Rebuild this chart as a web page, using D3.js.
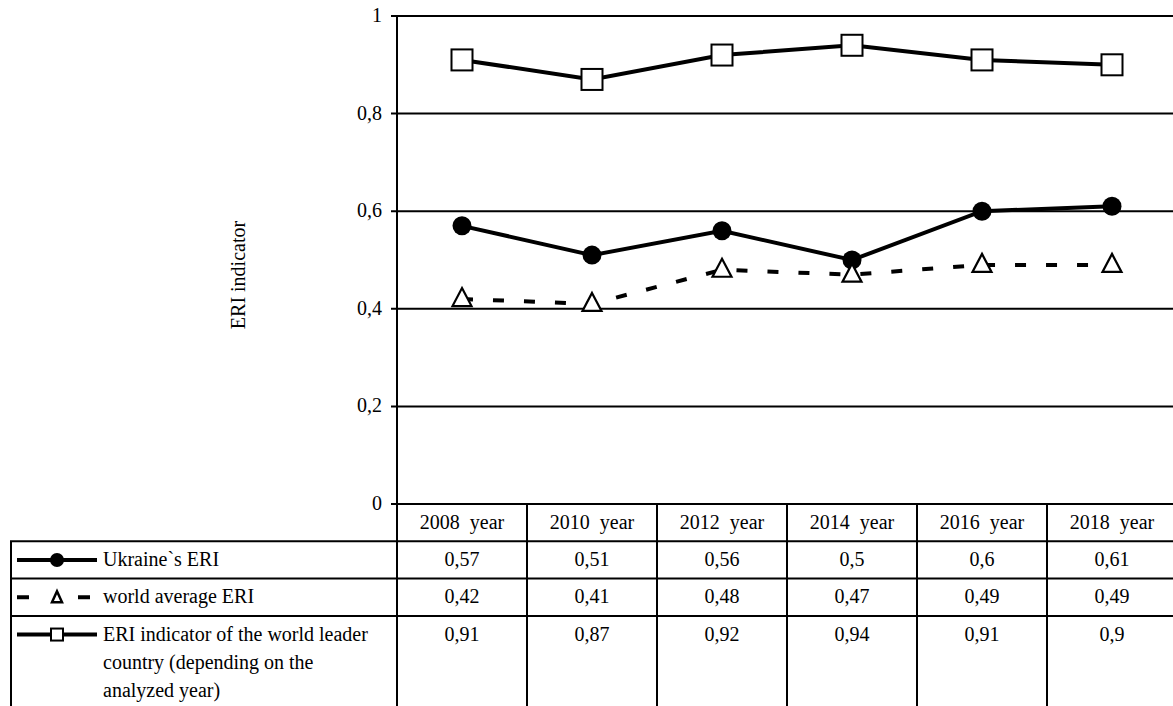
<!DOCTYPE html>
<html>
<head>
<meta charset="utf-8">
<script src="https://cdn.jsdelivr.net/npm/d3@7"></script>
<style>
    body { margin: 0; background: #fff; }
    svg text { font-family: "Liberation Serif", "Times New Roman", serif; font-size: 20px; fill: #000; }
</style>
</head>
<body>
<div id="myDiv"></div>
<script>
// Chart data
var years = ["2008  year", "2010  year", "2012  year", "2014  year", "2016  year", "2018  year"];
var ukraineEri = [0.57, 0.51, 0.56, 0.5, 0.6, 0.61];
var worldAvgEri = [0.42, 0.41, 0.48, 0.47, 0.49, 0.49];
var leaderEri = [0.91, 0.87, 0.92, 0.94, 0.91, 0.9];
var yTicks = [0, 0.2, 0.4, 0.6, 0.8, 1];

var seriesList = [
    { name: "Ukraine`s ERI", values: ukraineEri, marker: "circle", dash: null },
    { name: "world average ERI", values: worldAvgEri, marker: "triangle", dash: "11,20" },
    { name: ["ERI indicator of the world leader", "country (depending on the", "analyzed year)"], values: leaderEri, marker: "square", dash: null }
];

var width = 1173, height = 706;
var plotLeft = 397, plotRight = 1177, plotTop = 16, plotBottom = 504;
var rowH = 37.3;

var svg = d3.select("#myDiv").append("svg")
    .attr("width", width)
    .attr("height", height);

var x = d3.scaleBand().domain(years).range([plotLeft, plotRight]);
var y = d3.scaleLinear().domain([0, 1]).range([plotBottom, plotTop]);

function fmt(v) { return String(v).replace(".", ","); }

// grid lines
svg.selectAll(".grid")
    .data(yTicks)
    .enter().append("line")
    .attr("x1", plotLeft - 6).attr("x2", plotRight)
    .attr("y1", d => y(d)).attr("y2", d => y(d))
    .attr("stroke", "#000").attr("stroke-width", 2);

// y axis line
svg.append("line")
    .attr("x1", plotLeft).attr("x2", plotLeft)
    .attr("y1", plotTop).attr("y2", height)
    .attr("stroke", "#000").attr("stroke-width", 2);

// tick labels
svg.selectAll(".ytick")
    .data(yTicks)
    .enter().append("text")
    .attr("x", plotLeft - 15)
    .attr("y", d => y(d))
    .attr("dy", "0.3em")
    .attr("text-anchor", "end")
    .text(d => fmt(d));

// axis title
svg.append("text")
    .attr("transform", "translate(239,275) rotate(-90)")
    .attr("dy", "0.3em")
    .attr("text-anchor", "middle")
    .text("ERI indicator");

// data table
var rowTops = [plotBottom, plotBottom + rowH, plotBottom + 2 * rowH, plotBottom + 3 * rowH];
svg.selectAll(".hline")
    .data(rowTops.slice(1))
    .enter().append("line")
    .attr("x1", 10).attr("x2", plotRight)
    .attr("y1", d => d).attr("y2", d => d)
    .attr("stroke", "#000").attr("stroke-width", 2);

svg.append("line")
    .attr("x1", 11).attr("x2", 11)
    .attr("y1", rowTops[1]).attr("y2", height)
    .attr("stroke", "#000").attr("stroke-width", 2);

svg.selectAll(".vline")
    .data(years.slice(1))
    .enter().append("line")
    .attr("x1", d => x(d)).attr("x2", d => x(d))
    .attr("y1", plotBottom).attr("y2", height)
    .attr("stroke", "#000").attr("stroke-width", 2);

svg.selectAll(".yearLabel")
    .data(years)
    .enter().append("text")
    .attr("x", d => x(d) + x.bandwidth() / 2)
    .attr("y", plotBottom + rowH / 2)
    .attr("dy", "0.3em")
    .attr("text-anchor", "middle")
    .style("white-space", "pre")
    .attr("xml:space", "preserve")
    .text(d => d);

// marker drawing
function drawMarker(g, type, cx, cy) {
    if (type === "circle") {
        g.append("circle").attr("cx", cx).attr("cy", cy).attr("r", 9.5).attr("fill", "#000");
    } else if (type === "square") {
        g.append("rect").attr("x", cx - 10.5).attr("y", cy - 10.5).attr("width", 21).attr("height", 21)
            .attr("fill", "#fff").attr("stroke", "#000").attr("stroke-width", 2);
    } else {
        g.append("path")
            .attr("d", "M" + cx + "," + (cy - 11) + "L" + (cx + 9.5) + "," + (cy + 7) + "L" + (cx - 9.5) + "," + (cy + 7) + "Z")
            .attr("fill", "#fff").attr("stroke", "#000").attr("stroke-width", 2.2);
    }
}

var line = d3.line()
    .x((d, i) => x(years[i]) + x.bandwidth() / 2)
    .y(d => y(d));

seriesList.forEach(function (s, k) {
    var g = svg.append("g");
    g.append("path")
        .attr("d", line(s.values))
        .attr("fill", "none")
        .attr("stroke", "#000")
        .attr("stroke-width", 4)
        .attr("stroke-dasharray", s.dash);
    s.values.forEach(function (v, i) {
        drawMarker(g, s.marker, x(years[i]) + x.bandwidth() / 2, y(v));
    });

    // table row
    var rowMid = rowTops[k + 1] + rowH / 2;
    svg.selectAll(".val" + k)
        .data(s.values)
        .enter().append("text")
        .attr("x", (d, i) => x(years[i]) + x.bandwidth() / 2)
        .attr("y", rowMid)
        .attr("dy", "0.3em")
        .attr("text-anchor", "middle")
        .text(d => fmt(d));

    // legend key
    var lg = svg.append("g");
    if (s.marker === "triangle") {
        lg.append("line").attr("x1", 17).attr("x2", 29).attr("y1", rowMid).attr("y2", rowMid).attr("stroke", "#000").attr("stroke-width", 4);
        lg.append("line").attr("x1", 78).attr("x2", 90).attr("y1", rowMid).attr("y2", rowMid).attr("stroke", "#000").attr("stroke-width", 4);
        lg.append("path")
            .attr("d", "M57," + (rowMid - 6) + "L62," + (rowMid + 5) + "L52," + (rowMid + 5) + "Z")
            .attr("fill", "#fff").attr("stroke", "#000").attr("stroke-width", 2.5);
    } else {
        lg.append("line")
            .attr("x1", 17).attr("x2", 97)
            .attr("y1", rowMid).attr("y2", rowMid)
            .attr("stroke", "#000").attr("stroke-width", 4);
        if (s.marker === "circle") {
            lg.append("circle").attr("cx", 57).attr("cy", rowMid).attr("r", 7).attr("fill", "#000");
        } else {
            lg.append("rect").attr("x", 51).attr("y", rowMid - 6).attr("width", 12).attr("height", 12)
                .attr("fill", "#fff").attr("stroke", "#000").attr("stroke-width", 2);
        }
    }
    var names = Array.isArray(s.name) ? s.name : [s.name];
    names.forEach(function (t, j) {
        lg.append("text")
            .attr("x", 103)
            .attr("y", rowMid + j * 28)
            .attr("dy", "0.3em")
            .text(t);
    });
});
</script>
</body>
</html>
